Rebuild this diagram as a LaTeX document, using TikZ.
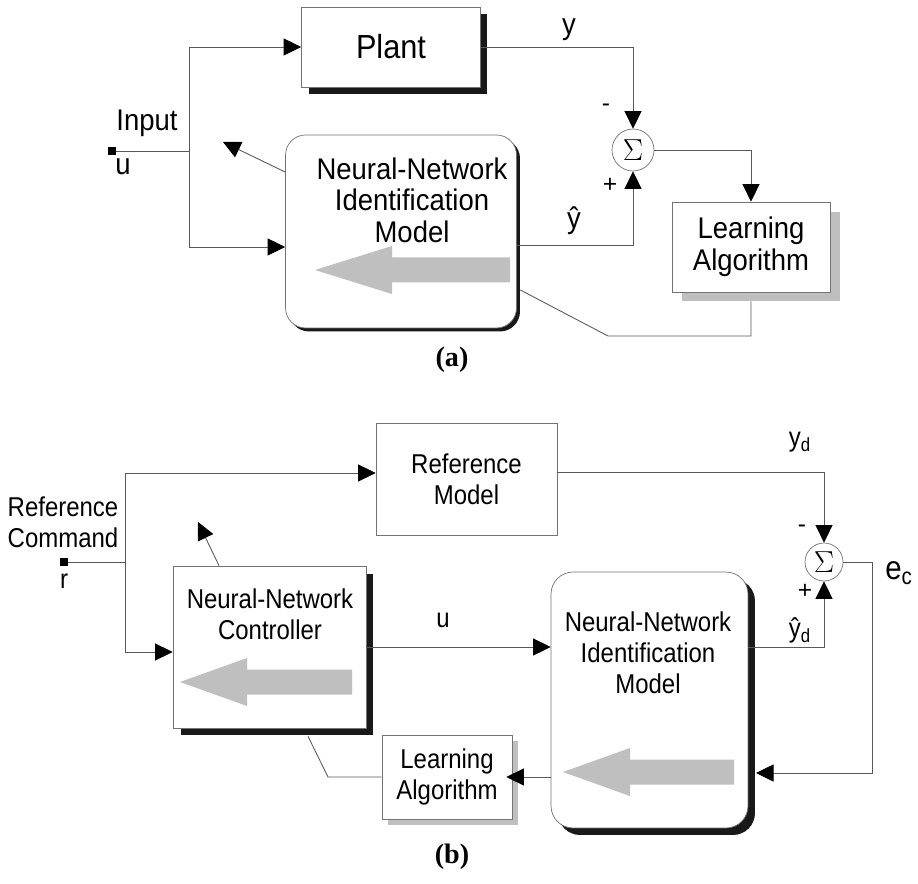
\documentclass[tikz,border=0pt]{standalone}
\usepackage{fontspec}
\setmainfont{Liberation Sans}
\newfontfamily\afont{Liberation Sans}[FakeStretch=0.92]
\newfontfamily\bfont{Liberation Sans}[FakeStretch=0.88]
\newfontfamily\capfont{Liberation Serif}
\usetikzlibrary{arrows.meta,shadows,positioning,calc}
\tikzset{
    block/.style =  {rectangle,
                    fill=white,
                    draw=black!55,
                    text=black,
                    thin,
                    align=center,
                    inner sep=0pt},
    nnbox/.style =  {block,
                    rounded corners=0.4cm},
    darkshadow/.style = {drop shadow={shadow xshift=#1,
                    shadow yshift=-#1,
                    fill=black!90,
                    opacity=1}},
    greyshadow/.style = {drop shadow={shadow xshift=#1,
                    shadow yshift=-#1,
                    fill=black!25,
                    opacity=1}},
    sumnode/.style = {circle,
                    fill=white,
                    draw=black!55,
                    thin,
                    inner sep=0pt,
                    font=\fontsize{19}{19}\selectfont},
    term/.style =   {rectangle,
                    fill=black,
                    inner sep=0pt,
                    minimum size=0.16cm},
    atxt/.style =   {align=center,
                    font=\afont\fontsize{17}{18}\selectfont},
    btxt/.style =   {align=center,
                    font=\bfont\fontsize{15.5}{17.5}\selectfont},
    sign/.style =   {font=\fontsize{14}{14}\selectfont},
    figcap/.style = {font=\capfont\bfseries\fontsize{16}{16}\selectfont},
    wire/.style =   {draw=black!65,
                    line width=0.5pt},
    flow/.style =   {fill=black!25},
    -,
    >={Triangle[length=0.35cm,width=0.34cm,color=black,fill=black]}}

\begin{document}
\begin{tikzpicture}[x=0.02cm,y=-0.02cm]
    \useasboundingbox (0,0) rectangle (918,884);

    % (a) identification
    \node[block,darkshadow=0.14cm,atxt,font=\afont\fontsize{19}{19}\selectfont,minimum width=3.58cm,minimum height=1.6cm] (plant) at (391,47) {Plant};
    \node[nnbox,darkshadow=0.07cm,minimum width=4.62cm,minimum height=3.86cm] (NNa) at (401,231.5) {};
    \node[atxt] (NNaText) at (412,200) {Neural-Network\\Identification\\Model};
    \node[sumnode,minimum size=0.84cm] (suma) at (633,150) {$\Sigma$};
    \node[block,greyshadow=0.19cm,atxt,minimum width=3.16cm,minimum height=1.8cm] (LAa) at (751,247) {Learning\\Algorithm};
    \node[term] (u) at (112,151) {};
    \node[atxt] (uIn) at (147,123) {Input};
    \node[atxt] (uName) at (123,167) {u};
    \node[atxt] (yName) at (569,30) {y};
    \node[atxt] (yhName) at (574,221) {ŷ};
    \node[sign] (ma) at (606,108) {-};
    \node[sign] (pa) at (610,185) {+};
    \node[figcap] (capa) at (452,360) {(a)};
    \coordinate (ja) at (189,151);
    \coordinate (tipa) at (223,142);
    \coordinate (ka) at (608,336);

    % (b) control
    \node[block,minimum width=3.62cm,minimum height=2.24cm,btxt] (refm) at (466.5,479) {Reference\\Model};
    \node[block,darkshadow=0.15cm,minimum width=3.86cm,minimum height=3.24cm] (ctrl) at (269.5,647) {};
    \node[btxt] (ctrlText) at (270,614) {Neural-Network\\Controller};
    \node[nnbox,darkshadow=0.14cm,rounded corners=0.44cm,minimum width=3.94cm,minimum height=5.12cm] (NNb) at (649.5,700) {};
    \node[btxt] (NNbText) at (648,653) {Neural-Network\\Identification\\Model};
    \node[block,greyshadow=0.12cm,btxt,minimum width=2.6cm,minimum height=1.68cm] (LAb) at (447,777) {Learning\\Algorithm};
    \node[sumnode,minimum size=0.76cm] (sumb) at (824,562) {$\Sigma$};
    \node[term] (r) at (64,562) {};
    \node[btxt] (rName) at (64,581) {r};
    \node[btxt] (refCmd) at (63,522) {Reference\\Command};
    \node[btxt] (uu) at (443,620) {u};
    \node[btxt] (ydName) at (800,442) {y\textsubscript{d}};
    \node[btxt] (ydhName) at (800,630) {ŷ\textsubscript{d}};
    \node[font=\bfont\fontsize{19}{19}\selectfont] (ecName) at (899,573) {e\textsubscript{c}};
    \node[sign] (mb) at (802,529) {-};
    \node[sign] (pb) at (805,591) {+};
    \node[figcap] (capb) at (452,857) {(b)};
    \coordinate (jb) at (125,562);
    \coordinate (tipb) at (198,522);
    \coordinate (kb) at (872,773);
    \coordinate (kc) at (756,773);
    \coordinate (lb) at (328,777);

    % learning arrows
    \foreach \tl/\hb/\tp/\yc in {510/392/315/270, 352/247/180/682, 734/630/563/772}
        \fill[flow] (\tl,\yc-12.5) -- (\hb,\yc-12.5) -- (\hb,\yc-24) -- (\tp,\yc)
                    -- (\hb,\yc+24) -- (\hb,\yc+12.5) -- (\tl,\yc+12.5) -- cycle;

    % wires (a)
    \draw[wire] (u) -- (ja);
    \draw[wire,->] (ja) |- (plant.west);
    \draw[wire,->] (ja) |- ([yshift=-0.31cm]NNa.west);
    \draw[wire,->] ([yshift=1.19cm]NNa.west) -- (tipa);
    \draw[wire,->] (plant.east) -| (suma.north);
    \draw[wire,->] ([yshift=-0.27cm]NNa.east) -| (suma.south);
    \draw[wire,->] (suma.east) -| (LAa.north);
    \draw[wire] ([yshift=-0.18cm]LAa.south) |- (ka) -- ([xshift=0.07cm,yshift=-1.17cm]NNa.east);

    % wires (b)
    \draw[wire] (r) -- (jb);
    \draw[wire,->] (jb) |- ([yshift=0.12cm]refm.west);
    \draw[wire,->] (jb) |- ([yshift=-0.1cm]ctrl.west);
    \draw[wire,->] ([xshift=-1.01cm]ctrl.north) -- (tipb);
    \draw[wire,->] (ctrl.east) -- (ctrl.east -| NNb.west);
    \draw[wire,->] ([yshift=0.14cm]refm.east) -| (sumb.north);
    \draw[wire,->] (ctrl.east -| NNb.east) -| (sumb.south);
    \draw[wire,->] (sumb.east) -| (kb) -- (kc);
    \draw[wire,->,shorten >=-0.12cm] (LAb.east -| NNb.west) -- (LAb.east);
    \draw[wire] (LAb.west) -- (lb) -- ([xshift=0.77cm,yshift=-0.16cm]ctrl.south);
\end{tikzpicture}
\end{document}
